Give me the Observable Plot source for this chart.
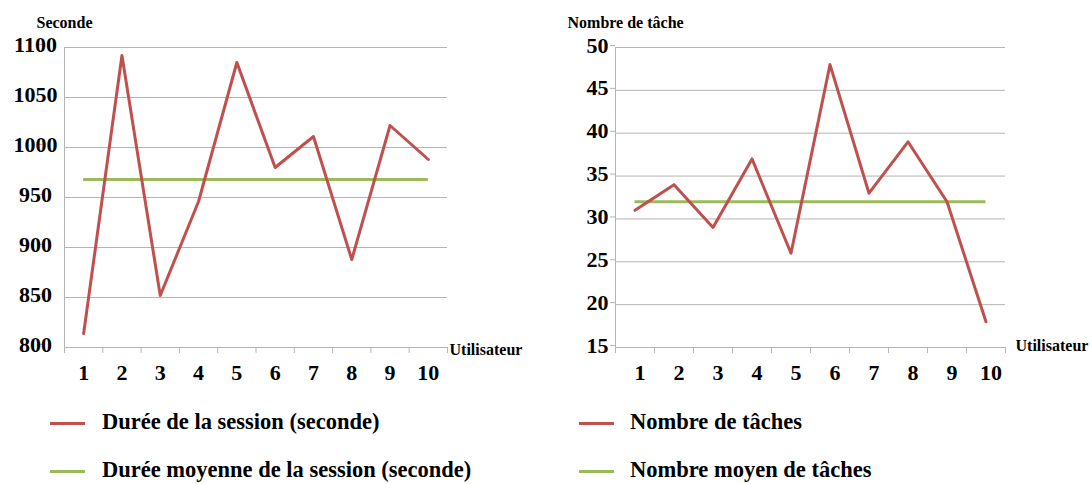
<!DOCTYPE html>
<html><head><meta charset="utf-8">
<script src="https://cdn.jsdelivr.net/npm/d3@7"></script>
<script src="https://cdn.jsdelivr.net/npm/@observablehq/plot@0.6"></script>
<style>
body{margin:0;background:#fff;}
#root{position:relative;width:1092px;height:484px;overflow:hidden;font-family:'Liberation Serif';font-weight:bold;color:#000;}
.plot{position:absolute;top:0;}
.sw{position:absolute;width:35px;height:3px;}
.lt{position:absolute;font-family:'Liberation Serif';font-weight:bold;font-size:22.5px;line-height:22px;white-space:nowrap;}
</style></head><body><div id="root"></div>
<script>
const users = [1, 2, 3, 4, 5, 6, 7, 8, 9, 10];
const xTickLabels = ["1", "2", "3", "4", "5", "6", "7", "8", "9", "10"];
const dureeSession = [814, 1092, 852, 946, 1085, 980, 1011, 888, 1022, 988];
const dureeMoyenne = 968;
const nombreTaches = [31, 34, 29, 37, 26, 48, 33, 39, 32, 18];
const nombreMoyen = 32;
const yTicksDuree = [800, 850, 900, 950, 1000, 1050, 1100];
const yTicksTaches = [15, 20, 25, 30, 35, 40, 45, 50];
const legendLeft = ["Durée de la session (seconde)", "Durée moyenne de la session (seconde)"];
const legendRight = ["Nombre de tâches", "Nombre moyen de tâches"];

const RED = "#C0504D", GREEN = "#9BBB59", GRID = "#b4b4b4";
const FONT = "'Liberation Serif'";

function chart({width, marginLeft, marginRight, values, mean, yTicks, yTitle, yTitleDx, yLabelOpts, xLabelDx, utilDx, utilDy}) {
  const rows = users.map((u, i) => ({user: u, v: values[i]}));
  const xDomain = [users[0] - 0.5, users[users.length - 1] + 0.5];
  const boundaries = users.map(u => u - 0.5).concat([users[users.length - 1] + 0.5]);
  return Plot.plot({
    width, height: 390, marginLeft, marginRight, marginTop: 47, marginBottom: 43,
    x: {domain: xDomain},
    y: {domain: [yTicks[0], yTicks[yTicks.length - 1]]},
    style: {fontFamily: FONT, fontWeight: "bold", fontSize: "22px", background: "transparent", overflow: "visible", color: "#000"},
    marks: [
      Plot.gridY(yTicks, {stroke: GRID, strokeOpacity: 1}),
      Plot.ruleX([xDomain[0]], {stroke: GRID}),
      Plot.axisY(yTicks, {tickSize: 5, stroke: GRID, fill: "#000", fontSize: 22, fontWeight: "bold", fontFamily: FONT, label: null, tickFormat: d => String(d), ...yLabelOpts}),
      Plot.axisX(boundaries, {tickSize: 6, stroke: GRID, tickFormat: () => "", label: null}),
      Plot.axisX(users, {tickSize: 0, tickPadding: 17, dx: xLabelDx, fill: "#000", fontSize: 22, fontWeight: "bold", fontFamily: FONT, label: null, tickFormat: u => xTickLabels[users.indexOf(u)]}),
      Plot.ruleY([mean], {x1: users[0], x2: users[users.length - 1], stroke: GREEN, strokeWidth: 3}),
      Plot.lineY(rows, {x: "user", y: "v", stroke: RED, strokeWidth: 3}),
      Plot.text([yTitle], {frameAnchor: "top-left", textAnchor: "start", lineAnchor: "middle", dx: yTitleDx, dy: -25, fontSize: 16, fontWeight: "bold", fontFamily: FONT, fill: "#000"}),
      Plot.text(["Utilisateur"], {frameAnchor: "bottom-right", textAnchor: "start", lineAnchor: "middle", dx: utilDx, dy: utilDy, fontSize: 16, fontWeight: "bold", fontFamily: FONT, fill: "#000"})
    ]
  });
}

const root = document.getElementById("root");
const left = chart({width: 540, marginLeft: 64, marginRight: 93, values: dureeSession, mean: dureeMoyenne, yTicks: yTicksDuree,
  yTitle: "Seconde", yTitleDx: -28, yLabelOpts: {tickPadding: 2, textAnchor: "middle", dx: -22, dy: -3}, xLabelDx: 0, utilDx: 2, utilDy: 2});
left.classList.add("plot"); left.style.left = "0px";
root.appendChild(left);
const right = chart({width: 552, marginLeft: 75, marginRight: 87, values: nombreTaches, mean: nombreMoyen, yTicks: yTicksTaches,
  yTitle: "Nombre de tâche", yTitleDx: -48, yLabelOpts: {tickPadding: 2, dy: -2}, xLabelDx: 5, utilDx: 10, utilDy: -2});
right.classList.add("plot"); right.style.left = "540px";
root.appendChild(right);

function legend(items, colors, swLeft, textLeft, tops) {
  items.forEach((t, i) => {
    const sw = document.createElement("div");
    sw.className = "sw"; sw.style.background = colors[i];
    sw.style.left = swLeft + "px"; sw.style.top = (tops[i] - 1.5) + "px";
    root.appendChild(sw);
    const tx = document.createElement("div");
    tx.className = "lt"; tx.textContent = t;
    tx.style.left = textLeft + "px"; tx.style.top = (tops[i] - 12) + "px";
    root.appendChild(tx);
  });
}
legend(legendLeft, [RED, GREEN], 50, 102, [423, 471]);
legend(legendRight, [RED, GREEN], 579, 630, [423, 471]);
</script></body></html>
